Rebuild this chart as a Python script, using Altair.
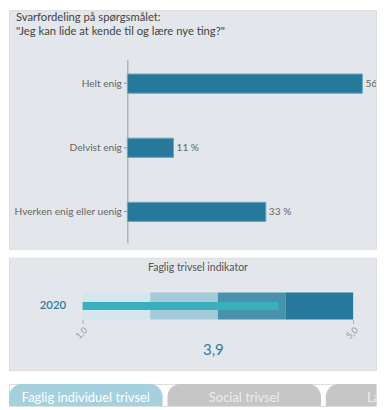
import altair as alt
import pandas as pd

FONT = "Lato"
PANEL = "#e3e6ea"

# ---- panel 1: answer distribution ----
title_lines = ["Svarfordeling på spørgsmålet:", "\"Jeg kan lide at kende til og lære nye ting?\""]
answers = ["Helt enig", "Delvist enig", "Hverken enig eller uenig"]
shares = [56, 11, 33]

# ---- panel 2: indicator ----
ind_title = "Faglig trivsel indikator"
years = ["2020"]
ind_value = [3.9]
band_lo = [1, 2, 3, 4]
band_hi = [2, 3, 4, 5]
band_names = ["b1", "b2", "b3", "b4"]
band_colors = ["#d4e7ef", "#a3cbd9", "#4992ad", "#27799b"]
axis_ticks = [1.0, 5.0]

# ---- panel 3: tabs ----
tabs = ["Faglig individuel trivsel", "Social trivsel", "Læringsmiljø"]
tab_fill = ["#a5d0dd", "#c6c6c6", "#c6c6c6"]
tab_text = ["#ffffff", "#ececec", "#ececec"]

W = 369

# panel 1
df1 = pd.DataFrame({"answer": answers, "share": shares})
df1["label"] = df1["share"].astype(str) + " %"

x1 = alt.X("share:Q", scale=alt.Scale(domain=[0, 100], range=[119, 541]), axis=None)
y1 = alt.Y(
    "answer:N", sort=answers,
    scale=alt.Scale(range=[50, 234], paddingInner=0.7, paddingOuter=0.2765, align=0.4),
    axis=alt.Axis(orient="left", offset=-119, title=None, domainColor="#9a9a9a",
                  tickColor="#9a9a9a", tickSize=4, labelColor="#666666", labelFontSize=10.2,
                  labelPadding=2, labelFont=FONT, grid=False),
)
bars = alt.Chart(df1).mark_bar(color="#27799b", stroke="#6aaac3", strokeWidth=1, clip=True).encode(x=x1, y=y1)
bar_labels = alt.Chart(df1).mark_text(align="left", dx=3, fontSize=10.2, color="#666666",
                                      font=FONT, clip=True).encode(x=x1, y=y1, text="label:N")
title1 = alt.Chart(pd.DataFrame({"t": ["\n".join(title_lines)]})).mark_text(
    align="left", baseline="top", lineBreak="\n", lineHeight=14.5, font=FONT,
    fontSize=11.3, color="#444444",
).encode(x=alt.value(7), y=alt.value(2), text="t:N")
p1 = alt.layer(bars, bar_labels, title1).properties(
    width=W, height=240, view=alt.ViewBackground(fill=PANEL),
)

# panel 2
df_bands = pd.DataFrame({"year": years * 4, "lo": band_lo, "hi": band_hi, "level": band_names})
df_val = pd.DataFrame({"year": years, "value": ind_value})
value_txt = f"{ind_value[0]:.1f}".replace(".", ",")

xs = alt.Scale(domain=[axis_ticks[0], axis_ticks[-1]], range=[74, 346])
ys = alt.Scale(range=[35, 62], paddingInner=0, paddingOuter=0)
x_axis = alt.Axis(orient="bottom", offset=-51, values=axis_ticks,
                  labelExpr="replace(format(datum.value, '.1f'), '.', ',')",
                  labelAngle=315, labelFlush=False, labelColor="#999999", labelFontSize=9,
                  labelFont=FONT, tickColor="#aaaaaa", tickSize=4, domain=False, grid=False,
                  title=value_txt, titleColor="#2a7fa0", titleFontSize=15, titleFont=FONT,
                  titleFontWeight="normal", titleX=205, titleY=30, titleBaseline="middle",
                  titleAlign="center")
y_axis = alt.Axis(orient="left", offset=-74, title=None, ticks=False, domain=False,
                  labelPadding=17, labelColor="#2f7fa0", labelFontSize=11.5, labelFont=FONT,
                  labelFontWeight=600)

bands = alt.Chart(df_bands).mark_bar().encode(
    x=alt.X("lo:Q", scale=xs, axis=x_axis),
    x2="hi",
    y=alt.Y("year:N", scale=ys, axis=y_axis),
    color=alt.Color("level:N", scale=alt.Scale(domain=band_names, range=band_colors), legend=None),
)
val_bar = alt.Chart(df_val).mark_bar(size=8, color="#3aafbe").encode(
    x=alt.X("value:Q", scale=xs, axis=x_axis),
    x2=alt.datum(axis_ticks[0]),
    y=alt.Y("year:N", scale=ys, axis=y_axis),
)
title2 = alt.Chart(pd.DataFrame({"t": [ind_title]})).mark_text(
    align="center", baseline="top", font=FONT, fontSize=10.5, color="#555555",
).encode(x=alt.value(190), y=alt.value(5), text="t:N")
p2 = alt.layer(bands, val_bar, title2).properties(
    width=W, height=113, view=alt.ViewBackground(fill=PANEL),
)

# panel 3
df3 = pd.DataFrame({"tab": tabs, "fill": tab_fill, "txt": tab_text})
xb = alt.X("tab:N", sort=tabs, scale=alt.Scale(range=[0, 473], paddingInner=0.03, paddingOuter=0), axis=None)
btn = alt.Chart(df3).mark_bar(cornerRadius=13, clip=True).encode(
    x=xb, y=alt.value(0), y2=alt.value(50), color=alt.Color("fill:N", scale=None))
btn_txt = alt.Chart(df3).mark_text(fontSize=13, font=FONT, dy=3, clip=True).encode(
    x=xb, color=alt.Color("txt:N", scale=None), text="tab:N")
p3 = alt.layer(btn, btn_txt).properties(width=W, height=22)

chart = alt.vconcat(alt.vconcat(p1, p2, spacing=7), p3, spacing=12).properties(
    padding=0, background="#ffffff"
).configure_view(strokeWidth=0).configure(font=FONT)

chart.save("out.html", embed_options={"renderer": "svg", "actions": False})
